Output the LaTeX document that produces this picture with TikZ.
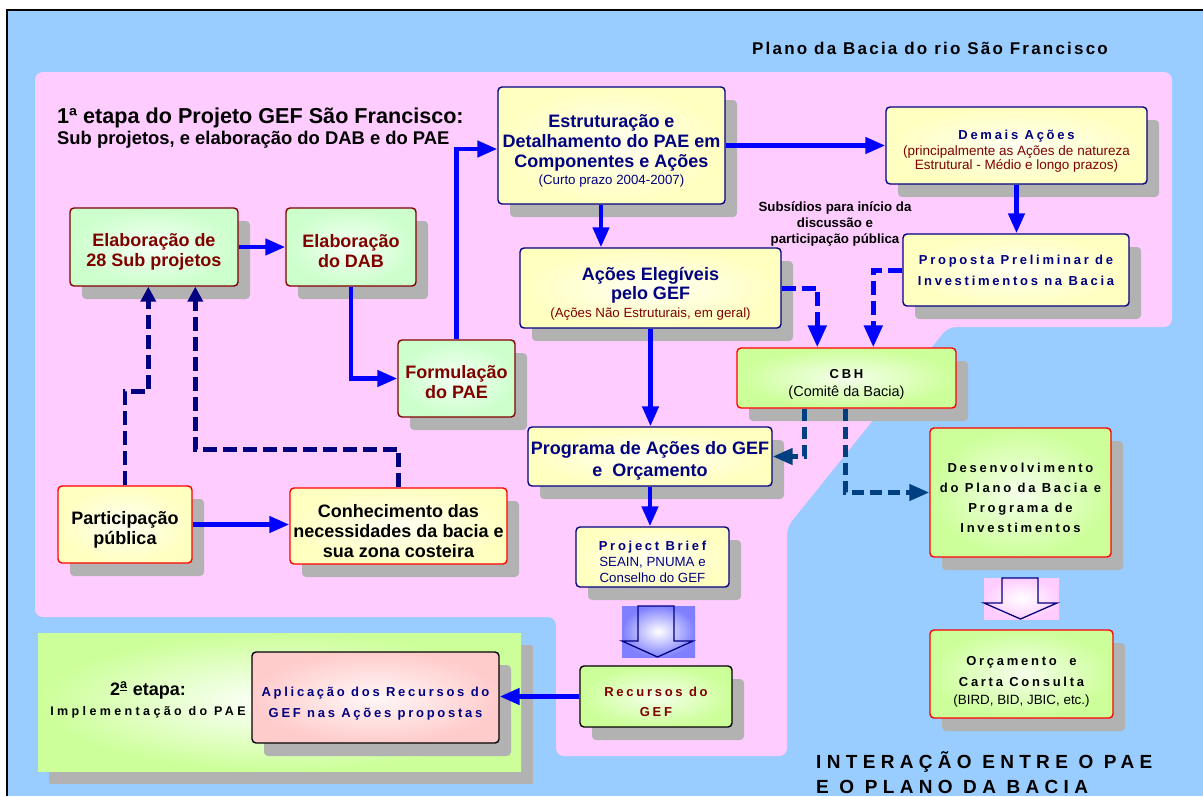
\documentclass[tikz,border=0pt]{standalone}
\usepackage{fontspec}
\setmainfont{Liberation Sans}
\newfontfamily\lsfont[LetterSpace=21]{Liberation Sans}
\newfontfamily\lstitle[LetterSpace=13]{Liberation Sans}
\newfontfamily\lsmid[LetterSpace=27]{Liberation Sans}
\newfontfamily\lswide[LetterSpace=28]{Liberation Sans}
\usetikzlibrary{arrows.meta,shadows,calc}
\definecolor{bgblue}{RGB}{153,204,255}
\definecolor{pinkbg}{RGB}{255,204,255}
\definecolor{yel}{RGB}{255,255,192}
\definecolor{lgreen}{RGB}{204,255,204}
\definecolor{ygreen}{RGB}{204,255,153}
\definecolor{rose}{RGB}{255,204,204}
\definecolor{navy}{RGB}{0,0,128}
\definecolor{dred}{RGB}{128,0,0}
\definecolor{shadowgray}{RGB}{178,178,178}
\definecolor{ablue}{RGB}{0,0,255}
\definecolor{steel}{RGB}{0,64,128}
\definecolor{violetbg}{RGB}{128,128,255}
\newcommand\fBig{\rmfamily\bfseries\fontsize{18}{20}\selectfont}
\newcommand\fSp{\lsfont\bfseries\fontsize{13}{20}\selectfont}
\newcommand\fSm[1]{\rmfamily\mdseries\fontsize{#1}{#1}\selectfont}
\newcommand\upstrut[1]{\rule{0pt}{#1pt}}
\tikzset{
  base/.style={inner sep=0pt, align=center, line width=1.4pt, rounded corners=4pt,
    drop shadow={shadow xshift=12pt, shadow yshift=-13pt, fill=shadowgray, opacity=1}},
  navybox/.style={base, draw=navy, shade, inner color=yel!20, outer color=yel, text=navy},
  redyel/.style={base, draw=red, shade, inner color=yel!20, outer color=yel, text=black},
  redgreen/.style={base, draw=red, shade, inner color=ygreen!20, outer color=ygreen, text=black},
  dredbox/.style={base, draw=dred, shade, inner color=lgreen!20, outer color=lgreen, text=dred},
  blkgreen/.style={base, draw=black, shade, inner color=ygreen!20, outer color=ygreen, text=dred},
  blkrose/.style={base, draw=black, shade, inner color=rose!15, outer color=rose, text=navy},
  arr/.style={draw=ablue, line width=4.5pt, -{Triangle[length=20pt,width=16pt]}},
  ndash/.style={draw=navy, line width=4.5pt, dash pattern=on 14pt off 6pt, -{Triangle[length=15pt,width=15pt]}},
  bdash/.style={draw=ablue, line width=5pt, dash pattern=on 14pt off 6pt, -{Triangle[length=22pt,width=18pt]}},
  sdash/.style={draw=steel, line width=4.5pt, dash pattern=on 12pt off 6pt, -{Triangle[length=20pt,width=16pt]}},
  bigarrow/.style={draw=navy, line width=1.3pt, line join=miter}
}
\begin{document}
\begin{tikzpicture}[x=1pt,y=-1pt]
\useasboundingbox (0,0) rectangle (1203,796);
\fill[white] (0,0) rectangle (1203,796);
\fill[bgblue] (7,10) rectangle (1203,796);
\draw[line width=2pt] (7,796) -- (7,10) -- (1203,10);
% pink region
\fill[pinkbg, rounded corners=8pt] (35,72) -- (1172,72) -- (1172,327) -- (948,327) -- (787,527) -- (787,756) -- (556,756) -- (556,617) -- (35,617) -- cycle;

% titles
\node[font=\lstitle\bfseries\fontsize{17}{20}\selectfont, inner sep=0pt] (plano) at (930,48) {Plano da Bacia do rio São Francisco};
\node[anchor=west, inner sep=0pt, font=\rmfamily\bfseries\fontsize{21.6}{24}\selectfont] (t1) at (57,118) {1ª etapa do Projeto GEF São Francisco:};
\node[anchor=west, inner sep=0pt, font=\rmfamily\bfseries\fontsize{18.4}{20}\selectfont] (t2) at (57,140) {Sub projetos, e elaboração do DAB e do PAE};

% stage 2 panel
\node[base, draw=none, rounded corners=0pt, shade, inner color=white, outer color=ygreen,
      minimum width=483pt, minimum height=138pt,
      drop shadow={shadow xshift=11pt, shadow yshift=-12pt, fill=shadowgray, opacity=1}] (panel) at (279.5,702) {};
\node[inner sep=0pt, align=center, font=\fBig] (stage2) at (148,700)
  {\fBig 2\textsuperscript{\underline{a}} etapa:\\\lsmid\bfseries\fontsize{12.5}{14}\selectfont Implementação do PAE};

% boxes
\node[dredbox, font=\fBig, minimum width=168pt, minimum height=78pt] (sub28) at (154,247) {\fBig\upstrut{23}Elaboração de\\\fBig 28 Sub projetos};
\node[dredbox, font=\fBig, minimum width=130pt, minimum height=78pt] (dab) at (351,247) {\fBig\upstrut{22}Elaboração\\\fBig do DAB};
\node[dredbox, font=\fBig, minimum width=117pt, minimum height=77pt] (form) at (456.5,378.5) {\fBig\upstrut{21}Formulação\\\fBig do PAE};
\node[navybox, font=\fBig, minimum width=227pt, minimum height=117pt] (estr) at (611.5,145.5)
  {\fBig\upstrut{23}Estruturação e\\\fBig Detalhamento do PAE em\\\fBig Componentes e Ações\\[-3pt]\fSm{13.3}(Curto prazo 2004-2007)};
\node[navybox, font=\fontsize{13}{15}\selectfont, minimum width=261pt, minimum height=77pt] (demais) at (1016.5,145.5)
  {\lsfont\bfseries\fontsize{13}{15}\selectfont\upstrut{20}Demais Ações\\[1pt]\fSm{13.5}\color{dred}(principalmente as Ações de natureza\\[-1pt]\fSm{13.5}\color{dred}Estrutural - Médio e longo prazos)};
\node[navybox, font=\fSp, minimum width=226pt, minimum height=72pt] (prop) at (1016,270)
  {\fSp Proposta Preliminar de\\[1pt]\fSp Investimentos na Bacia};
\node[navybox, font=\fBig, minimum width=261pt, minimum height=80pt] (acoes) at (650.5,288)
  {\fBig\upstrut{25}Ações Elegíveis\\[-1pt]\fBig pelo GEF\\[-2pt]\fSm{13.3}\color{dred}(Ações Não Estruturais, em geral)};
\node[redgreen, font=\fontsize{13}{18}\selectfont, minimum width=219pt, minimum height=60pt] (cbh) at (846.5,378)
  {\lsfont\bfseries\fontsize{13}{16}\selectfont\upstrut{21}CBH\\\fSm{14.5}(Comitê da Bacia)};
\node[navybox, font=\fBig, minimum width=244pt, minimum height=59pt] (prog) at (650,456.5)
  {\fBig\upstrut{21}Programa de Ações do GEF\\[2pt]\fBig e\ \ Orçamento};
\node[navybox, font=\fontsize{13}{16}\selectfont, minimum width=153pt, minimum height=60pt] (brief) at (652.5,557)
  {\lsfont\bfseries\fontsize{13}{16}\selectfont\upstrut{20}Project Brief\\\fSm{13.3}SEAIN, PNUMA e\\\fSm{13.3}Conselho do GEF};
\node[redgreen, font=\fSp, minimum width=181pt, minimum height=129pt] (desenv) at (1020.5,492.5)
  {\fSp\upstrut{20}Desenvolvimento\\\fSp do Plano da Bacia e\\\fSp Programa de\\\fSp Investimentos};
\node[redyel, font=\fBig, minimum width=134pt, minimum height=77pt] (part) at (125,524.5) {\fBig\upstrut{24}Participação\\\fBig pública};
\node[redyel, font=\fBig, minimum width=217pt, minimum height=76pt] (conhec) at (398.5,526)
  {\fBig\upstrut{23}Conhecimento das\\\fBig necessidades da bacia e\\\fBig sua zona costeira};
\node[blkgreen, font=\fSp, minimum width=152pt, minimum height=61pt] (recursos) at (656,696.5)
  {\fSp\upstrut{20}Recursos do\\\fSp GEF};
\node[blkrose, font=\fSp, minimum width=247pt, minimum height=91pt] (aplic) at (375.5,697.5)
  {\fSp\upstrut{22}Aplicação dos Recursos do\\[1pt]\fSp GEF nas Ações propostas};
\node[redgreen, font=\fSp, minimum width=183pt, minimum height=88pt] (orc) at (1021.5,674)
  {\fSp\upstrut{24}Orçamento\ \ e\\[1pt]\fSp Carta Consulta\\[-2pt]\fSm{13.4}(BIRD, BID, JBIC, etc.)};

\node[inner sep=0pt, align=center, font=\rmfamily\bfseries\fontsize{13.3}{16}\selectfont] (subs) at (835,224)
  {Subsídios para início da\\discussão e\\participação pública};

% bottom right title
\node[anchor=west, inner sep=0pt, font=\lswide\bfseries\fontsize{19}{25}\selectfont] (int1) at (816,762) {INTERAÇÃO ENTRE O PAE};
\node[anchor=west, inner sep=0pt, font=\lswide\bfseries\fontsize{19}{25}\selectfont] (int2) at (816,787) {E O PLANO DA BACIA};

% big hollow arrows
\shade[inner color=white, outer color=violetbg] (622,606) rectangle (695,657);
\draw[bigarrow] (638,606) -- (674,606) -- (674,641) -- (693,641) -- (657.5,657) -- (622,641) -- (638,641) -- cycle;
\shade[inner color=white, outer color=pinkbg] (984,578) rectangle (1059,619);
\draw[bigarrow] (1002,578) -- (1038,578) -- (1038,603) -- (1057,603) -- (1020.5,619) -- (984,603) -- (1002,603) -- cycle;

% connectors
\draw[arr] (sub28.east) -- (dab.west);
\draw[arr] (dab.south) |- (form.west);
\draw[arr] (form.north) |- ($(estr.west)+(0,3.5)$);
\draw[arr] (estr.east) -- (demais.west);
\coordinate (e1) at ($(estr.south)+(-10.5,0)$);
\draw[arr] (e1) -- (e1 |- acoes.north);
\draw[arr] (demais.south) -- (demais.south |- prop.north);
\draw[arr] (acoes.south) -- (acoes.south |- prog.north);
\draw[arr] (prog.south) -- (prog.south |- brief.north);
\draw[arr] (part.east) -- (part.east -| conhec.west);
\draw[arr] (recursos.west) -- (recursos.west -| aplic.east);

\coordinate (c1) at ($(cbh.north west)+(81,0)$);
\coordinate (c2) at ($(cbh.north west)+(137,0)$);
\draw[bdash] (acoes.east) -| (c1);
\draw[bdash] (prop.west) -| (c2);
\coordinate (c3) at ($(cbh.south west)+(68,0)$);
\coordinate (c4) at ($(cbh.south west)+(109,0)$);
\draw[sdash] (c3) |- (prog.east);
\draw[sdash] (c4) |- (desenv.west);

\draw[ndash] (part.north) -- ++(0,-94) -| ($(sub28.south west)+(79,0)$);
\draw[ndash] (conhec.north) -- ++(0,-38) -| ($(sub28.south west)+(126,0)$);
\end{tikzpicture}
\end{document}
